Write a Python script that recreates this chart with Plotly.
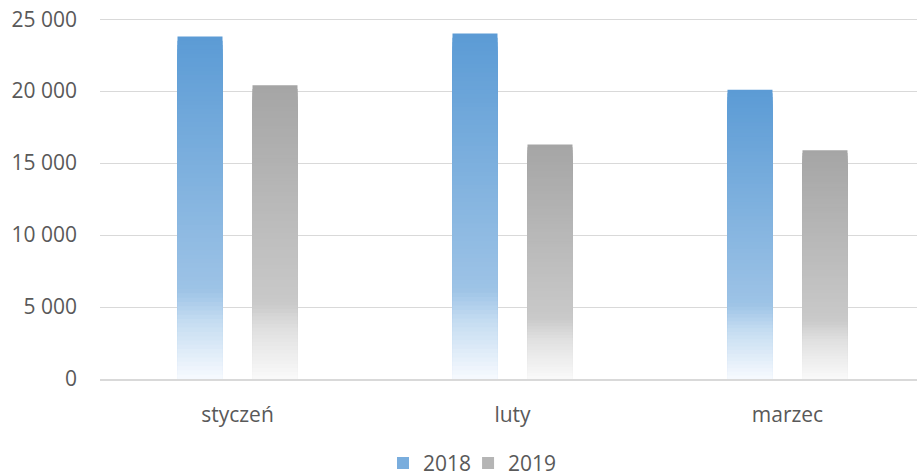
import plotly.graph_objects as go

categories = ["styczeń", "luty", "marzec"]
series_names = ["2018", "2019"]
values_2018 = [23800, 24000, 20100]
values_2019 = [20400, 16300, 15900]

# gradient stops (fraction from top of bar -> rgb)
grad_2018 = [(0.0, (91, 155, 213)), (0.74, (157, 195, 230)), (0.83, (196, 220, 241)), (1.0, (247, 250, 254))]
grad_2019 = [(0.0, (165, 165, 165)), (0.74, (201, 201, 201)), (0.83, (224, 224, 224)), (1.0, (250, 250, 250))]

N = 80
BAR_W = 45 / 275
SLOT = 75 / 275


def interp(stops, t):
    for (t0, c0), (t1, c1) in zip(stops[:-1], stops[1:]):
        if t <= t1:
            f = (t - t0) / (t1 - t0) if t1 > t0 else 0
            return "rgb(%d,%d,%d)" % tuple(round(a + (b - a) * f) for a, b in zip(c0, c1))
    return "rgb(%d,%d,%d)" % stops[-1][1]


fig = go.Figure()
series = [(series_names[0], values_2018, grad_2018, "legend"),
          (series_names[1], values_2019, grad_2019, "legend2")]
for si, (name, vals, stops, leg) in enumerate(series):
    offset = -SLOT + (SLOT - BAR_W) / 2 if si == 0 else (SLOT - BAR_W) / 2
    for k in range(N):
        frac = 1 - k / N
        t = (k + 0.5) / N
        fig.add_trace(go.Bar(
            x=categories,
            y=[v * frac for v in vals],
            name=name,
            legend=leg,
            legendgroup=name,
            showlegend=(k == N // 3),
            width=BAR_W,
            offset=offset,
            marker=dict(color=interp(stops, t), line=dict(width=0)),
            hoverinfo="skip",
        ))

leg_common = dict(
    orientation="h",
    xanchor="left",
    y=-0.233,
    yanchor="middle",
    font=dict(size=21, color="#595959"),
    itemwidth=30,
    bgcolor="rgba(0,0,0,0)",
)

fig.update_layout(
    width=917,
    height=474,
    barmode="overlay",
    separators=", ",
    plot_bgcolor="white",
    paper_bgcolor="white",
    font=dict(family="Open Sans", size=21, color="#595959"),
    margin=dict(l=100, r=0, t=17, b=95, autoexpand=False),
    showlegend=True,
    legend=dict(x=0.3464, **leg_common),
    legend2=dict(x=0.4505, **leg_common),
    xaxis=dict(
        type="category",
        range=[-0.5, 2.471],
        showgrid=False,
        showline=True,
        linecolor="#D9D9D9",
        linewidth=1.5,
        ticks="",
        ticklabelstandoff=16,
        automargin=False,
    ),
    yaxis=dict(
        range=[0, 25150],
        tickvals=[0, 5000, 10000, 15000, 20000, 25000],
        tickformat=",d",
        showgrid=True,
        gridcolor="#D9D9D9",
        gridwidth=1,
        zeroline=False,
        showline=False,
        ticks="",
        ticklabelstandoff=22,
        automargin=False,
    ),
)

fig.write_html("out.html", config={"displayModeBar": False},
               post_script="document.body.style.margin='0px';")
